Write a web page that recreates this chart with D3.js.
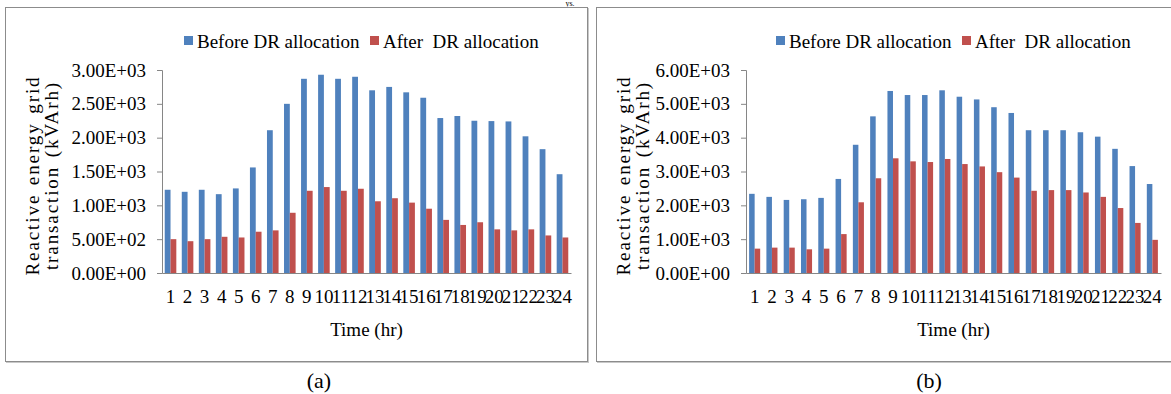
<!DOCTYPE html>
<html>
<head>
<meta charset="utf-8">
<script src="https://cdn.jsdelivr.net/npm/d3@7"></script>
<style>
  html, body { margin: 0; padding: 0; background: #fff; }
  svg { display: block; font-family: "Liberation Serif", "Times New Roman", serif; }
</style>
</head>
<body>
<svg id="chart" width="1171" height="394"></svg>
<script>
// Hours of the day (category axis)
const hours = [1,2,3,4,5,6,7,8,9,10,11,12,13,14,15,16,17,18,19,20,21,22,23,24];
const seriesNames = ["Before DR allocation", "After  DR allocation"];
const seriesColors = ["#4F81BD", "#C0504D"];

// Case (a): reactive energy grid transaction, kVArh
const beforeA = [1230,1200,1230,1165,1250,1560,2110,2500,2870,2930,2870,2900,
                 2700,2750,2670,2590,2290,2320,2250,2245,2240,2020,1830,1460];
const afterA  = [500,470,500,535,525,610,630,890,1215,1270,1215,1245,
                 1060,1105,1040,950,785,710,750,645,630,645,555,525];
const ticksA  = [0,500,1000,1500,2000,2500,3000];

// Case (b)
const beforeB = [2340,2250,2160,2180,2220,2780,3790,4630,5380,5260,5260,5400,
                 5210,5130,4900,4730,4220,4220,4220,4160,4030,3670,3160,2630];
const afterB  = [720,750,750,700,720,1150,2090,2800,3390,3300,3280,3370,
                 3220,3150,2980,2820,2430,2450,2450,2380,2250,1920,1480,980];
const ticksB  = [0,1000,2000,3000,4000,5000,6000];

const panelLabels = ["(a)", "(b)"];

const svg = d3.select("#chart");

// Tail of the preceding caption line
svg.append("text").attr("x", 570).attr("y", 6)
  .attr("text-anchor", "middle").attr("font-size", 8).attr("fill", "#000")
  .text("ys.");

// Scientific tick format: 3.00E+03
function sci(v) {
  const s = v.toExponential(2).toUpperCase();
  return s.replace(/E([+-])(\d)$/, "E$10$2");
}

function drawPanel(opt) {
  const g = svg.append("g");
  // frame with soft shadow on bottom/right
  g.append("rect").attr("x", opt.frame[0] + 1.5).attr("y", opt.frame[1] + 1.5)
    .attr("width", opt.frame[2]).attr("height", opt.frame[3])
    .attr("fill", "none").attr("stroke", "#c8c8c8").attr("stroke-width", 1);
  g.append("rect").attr("x", opt.frame[0] + 0.5).attr("y", opt.frame[1] + 0.5)
    .attr("width", opt.frame[2]).attr("height", opt.frame[3])
    .attr("fill", "#fff").attr("stroke", "#8c8c8c").attr("stroke-width", 1);

  const x0 = d3.scaleBand().domain(hours).range([opt.left, opt.right]).padding(0);
  const x1 = d3.scaleBand().domain([0, 1])
    .range([x0.bandwidth() * opt.groupInset, x0.bandwidth() * (1 - opt.groupInset)]);
  const y = d3.scaleLinear().domain([0, opt.ticks[opt.ticks.length - 1]])
    .range([opt.bottom, opt.top]);

  // y axis
  const yAxis = g.append("g").attr("transform", `translate(${opt.left},0)`)
    .call(d3.axisLeft(y).tickValues(opt.ticks).tickFormat(sci).tickSizeOuter(0).tickSize(5).tickPadding(11));
  yAxis.select(".domain").attr("stroke", "#868686");
  yAxis.selectAll(".tick line").attr("stroke", "#868686");
  yAxis.selectAll(".tick text").attr("font-size", 19).attr("fill", "#000")
    .attr("font-family", "Liberation Serif");

  // bars
  const rows = hours.map((h, i) => ({ h, vals: [opt.before[i], opt.after[i]] }));
  const grp = g.selectAll(".hour").data(rows).enter().append("g")
    .attr("transform", d => `translate(${x0(d.h)},0)`);
  grp.selectAll("rect").data(d => d.vals.map((v, k) => ({ v, k }))).enter()
    .append("rect")
    .attr("x", d => x1(d.k))
    .attr("width", x1.bandwidth())
    .attr("y", d => y(d.v))
    .attr("height", d => y(0) - y(d.v))
    .attr("fill", d => seriesColors[d.k]);

  // x axis
  const xAxis = g.append("g").attr("transform", `translate(0,${opt.bottom})`)
    .call(d3.axisBottom(x0).tickSize(0).tickSizeOuter(0).tickPadding(17));
  xAxis.select(".domain").attr("stroke", "#868686");
  xAxis.selectAll(".tick text").attr("font-size", 19).attr("fill", "#000")
    .attr("font-family", "Liberation Serif");

  // axis titles
  const cx = (opt.left + opt.right) / 2;
  g.append("text").attr("x", cx).attr("y", 336).attr("text-anchor", "middle")
    .attr("font-size", 19).text("Time (hr)");
  const cy = (opt.top + opt.bottom) / 2 + 4;
  const yt = g.append("text").attr("transform", `translate(${opt.frame[0] + 34},${cy}) rotate(-90)`)
    .attr("text-anchor", "middle").attr("font-size", 19)
    .attr("letter-spacing", 1.9).attr("word-spacing", 2);
  yt.append("tspan").attr("x", 0).attr("dy", 0).text("Reactive energy grid");
  yt.append("tspan").attr("x", 0).attr("dy", 19).text("transaction  (kVArh)");

  // legend
  const lg = g.append("g");
  opt.legendX.forEach((lx, k) => {
    lg.append("rect").attr("x", lx).attr("y", 36).attr("width", 9).attr("height", 9)
      .attr("fill", seriesColors[k]);
    lg.append("text").attr("x", lx + 13).attr("y", 48).attr("font-size", 19)
      .attr("xml:space", "preserve").style("white-space", "pre").text(seriesNames[k]);
  });

  // panel caption
  svg.append("text").attr("x", opt.captionX).attr("y", 388).attr("text-anchor", "middle")
    .attr("font-size", 22).text(opt.caption);
}

drawPanel({
  frame: [5, 7, 582, 354], left: 162, right: 571, top: 70, bottom: 273,
  before: beforeA, after: afterA, ticks: ticksA, groupInset: 0.16,
  legendX: [184, 370], caption: panelLabels[0], captionX: 319
});
drawPanel({
  frame: [596, 7, 590, 354], left: 746, right: 1161, top: 70, bottom: 273,
  before: beforeB, after: afterB, ticks: ticksB, groupInset: 0.18,
  legendX: [776, 962], caption: panelLabels[1], captionX: 929
});
</script>
</body>
</html>
